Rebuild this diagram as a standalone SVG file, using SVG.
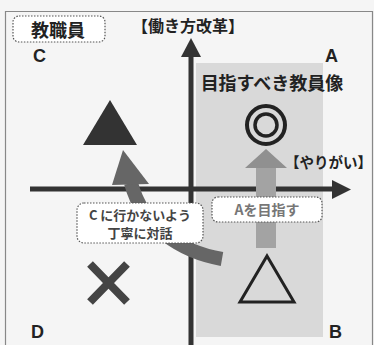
<svg xmlns="http://www.w3.org/2000/svg" width="374" height="345" viewBox="0 0 374 345">
<defs>
<style>
.jp{font-family:"Noto Sans CJK JP","Noto Sans",sans-serif;font-weight:bold;}
.lt{font-family:"Liberation Sans","DejaVu Sans",sans-serif;font-weight:bold;font-size:18px;fill:#222;}
.box{fill:#fff;stroke:#555;stroke-width:1.2;stroke-dasharray:1.5 1.5;}
</style>
</defs>
<rect width="374" height="345" fill="#f5f5f5"/>
<g id="frame">
<path d="M5.5,345 V11.5 H372.5 V345" fill="none" stroke="#888" stroke-width="1.2"/>
</g>
<g id="regionA">
<rect x="196" y="63" width="127" height="274" fill="#d9d9d9"/>
</g>
<g id="connectors">
<line x1="191" y1="345" x2="191" y2="56" stroke="#333" stroke-width="5"/>
<path d="M181,57 L191,38 L201,57 z" fill="#333"/>
<line x1="30" y1="189" x2="334" y2="189" stroke="#333" stroke-width="5"/>
<path d="M332,180 L351,189.5 L332,199 z" fill="#333"/>
<path d="M222,259 C182,252 143,228 131,183" fill="none" stroke="#666" stroke-width="14"/>
<path d="M112,185 L123,150 L149,184 z" fill="#666"/>
<rect x="256" y="166" width="20" height="82" fill="#a3a3a3"/>
<path d="M245,168 L266,149 L287,168 z" fill="#909090"/>
</g>
<g id="title-kyoshokuin">
<rect class="box" x="13" y="16" width="92" height="26" rx="6"/>
<text class="jp" x="58" y="37" font-size="18" text-anchor="middle" fill="#222">教職員</text>
</g>
<g id="title-hataraki">
<text class="jp" x="188" y="32" font-size="16" text-anchor="middle" fill="#222">【働き方改革】</text>
</g>
<g id="title-yarigai">
<text class="jp" x="285" y="168" font-size="14.5" fill="#222">【やりがい】</text>
</g>
<g id="label-C"><text class="lt" x="33" y="62">C</text></g>
<g id="label-A"><text class="lt" x="325" y="62">A</text></g>
<g id="label-D"><text class="lt" x="31" y="338">D</text></g>
<g id="label-B"><text class="lt" x="329" y="338">B</text></g>
<g id="goal">
<text class="jp" x="272" y="90" font-size="18" text-anchor="middle" fill="#222">目指すべき教員像</text>
<circle cx="266" cy="125" r="19" fill="none" stroke="#222" stroke-width="4"/>
<circle cx="266" cy="125" r="11" fill="none" stroke="#222" stroke-width="3.5"/>
</g>
<g id="triangle-dark">
<path d="M110,100 L137,145 L83,145 z" fill="#333"/>
</g>
<g id="cross">
<path d="M90,264 L127,302 M127,264 L90,302" stroke="#444" stroke-width="8" fill="none"/>
</g>
<g id="triangle-hollow">
<path d="M267,256 L294,302 L240,302 z" fill="none" stroke="#222" stroke-width="3"/>
</g>
<g id="box-A">
<rect class="box" x="212" y="197" width="110" height="25" rx="6"/>
<text class="jp" x="267" y="215" font-size="14" text-anchor="middle" fill="#777">Aを目指す</text>
</g>
<g id="box-C">
<rect class="box" x="77" y="203" width="126" height="40" rx="7"/>
<text class="jp" x="140" y="220" font-size="13" text-anchor="middle" fill="#444">C に行かないよう</text>
<text class="jp" x="140" y="238" font-size="13" text-anchor="middle" fill="#444">丁寧に対話</text>
</g>
</svg>
